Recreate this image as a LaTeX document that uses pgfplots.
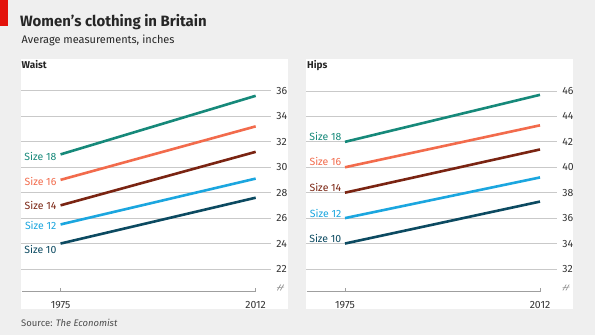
\documentclass[border=0pt]{standalone}
\usepackage{pgfplots}
\pgfplotsset{compat=1.18}
\usepackage{fontspec}
\setmainfont{Fira Sans}
\definecolor{bg}{HTML}{EFEFEF}
\definecolor{econred}{HTML}{E3120B}
\definecolor{sA}{HTML}{16897A}
\definecolor{sB}{HTML}{F26B4C}
\definecolor{sC}{HTML}{7A2412}
\definecolor{sD}{HTML}{1BA6DF}
\definecolor{sE}{HTML}{0C4A61}
\definecolor{txt}{HTML}{333333}
\definecolor{grid}{HTML}{C9C9C9}
\pgfplotsset{
  econ/.style={
    scale only axis,
    axis line style={draw=none},
    tick pos=left,
    ytick style={draw=none},
    xtick style={draw=gray!75, line width=0.8bp},
    tick align=inside,
    major tick length=3.5bp,
    yticklabel pos=right,
    ymajorgrids,
    major grid style={color=grid, line width=0.9bp},
    xtick={1975,2012},
    /pgf/number format/1000 sep={},
    /pgf/number format/assume math mode=true,
    ticklabel style={font=\fontsize{10.5}{12}\selectfont, text=txt},
    y tick label style={anchor=west, inner sep=0pt, xshift=5.5bp},
    x tick label style={anchor=north, inner sep=0pt, yshift=-9bp},
    clip=false,
    every axis plot/.append style={line width=2.6bp},
  },
}
\tikzset{lab/.style={anchor=east, inner sep=0pt, font=\fontsize{10.5}{12}\selectfont}}
\begin{document}
\begin{tikzpicture}[x=1bp,y=1bp]
\fill[bg] (0,0) rectangle (595,335);
\fill[econred] (0,335) rectangle (8,309);
\fill[white] (21,275.7) rectangle (288,26);
\fill[white] (306,275.7) rectangle (573,26);
\node[anchor=base west, inner sep=0pt, font=\bfseries\fontsize{15}{18}\selectfont, text=black!85] at (20,308.5) {Women’s clothing in Britain};
\node[anchor=base west, inner sep=0pt, font=\fontsize{11}{13}\selectfont, text=black!85] at (21.5,292) {Average measurements, inches};
\node[anchor=base west, inner sep=0pt, font=\bfseries\fontsize{10}{12}\selectfont, text=black!85] at (21.5,267) {Waist};
\node[anchor=base west, inner sep=0pt, font=\bfseries\fontsize{10}{12}\selectfont, text=black!85] at (307,267) {Hips};
\node[anchor=base west, inner sep=0pt, font=\fontsize{9.5}{11}\selectfont, text=black!70] at (21,9) {Source: \textit{The Economist}};

% Waist
\begin{axis}[econ, at={(21bp,244.3bp)}, anchor=north west, width=249.7bp, height=201bp,
  xmin=1967.5, xmax=2014.85, ymin=20.22, ymax=36, ytick={22,24,...,36}]
\addplot[sE] coordinates {(1975,24.0) (2012,27.6)};
\addplot[sD] coordinates {(1975,25.5) (2012,29.1)};
\addplot[sC] coordinates {(1975,27.0) (2012,31.2)};
\addplot[sB] coordinates {(1975,29.0) (2012,33.2)};
\addplot[sA] coordinates {(1975,31.0) (2012,35.6)};
\draw[gray!75, line width=0.8bp] (axis cs:1967.7,20.22) -- (axis cs:2012,20.22);
\node[lab, text=sA] at (axis cs:1975,31.0) [xshift=-4bp, yshift=-1.7bp] {Size 18};
\node[lab, text=sB] at (axis cs:1975,29.0) [xshift=-4bp, yshift=-1.4bp] {Size 16};
\node[lab, text=sC] at (axis cs:1975,27.0) [xshift=-4bp, yshift=-0.4bp] {Size 14};
\node[lab, text=sD] at (axis cs:1975,25.5) [xshift=-4bp, yshift=-1.4bp] {Size 12};
\node[lab, text=sE] at (axis cs:1975,24.0) [xshift=-4bp, yshift=-6bp] {Size 10};
\end{axis}

% Hips
\begin{axis}[econ, at={(306bp,244bp)}, anchor=north west, width=250.7bp, height=200.7bp,
  xmin=1967.6, xmax=2015.17, ymin=30.21, ymax=46, ytick={32,34,...,46}]
\addplot[sE] coordinates {(1975,34.0) (2012,37.3)};
\addplot[sD] coordinates {(1975,36.0) (2012,39.2)};
\addplot[sC] coordinates {(1975,38.0) (2012,41.4)};
\addplot[sB] coordinates {(1975,40.0) (2012,43.3)};
\addplot[sA] coordinates {(1975,42.0) (2012,45.7)};
\draw[gray!75, line width=0.8bp] (axis cs:1967.7,30.21) -- (axis cs:2012,30.21);
\node[lab, text=sA] at (axis cs:1975,42.0) [xshift=-3.5bp, yshift=5bp] {Size 18};
\node[lab, text=sB] at (axis cs:1975,40.0) [xshift=-3.5bp, yshift=6bp] {Size 16};
\node[lab, text=sC] at (axis cs:1975,38.0) [xshift=-3.5bp, yshift=5.5bp] {Size 14};
\node[lab, text=sD] at (axis cs:1975,36.0) [xshift=-3.5bp, yshift=5bp] {Size 12};
\node[lab, text=sE] at (axis cs:1975,34.0) [xshift=-3.5bp, yshift=5.5bp] {Size 10};
\end{axis}

% axis break marks
\foreach \bx in {280.5,566} {
  \draw[gray!80, line width=0.7bp] (\bx-3.2,44.5) -- (\bx+0.2,50.5);
  \draw[gray!80, line width=0.7bp] (\bx-0.2,44.5) -- (\bx+3.2,50.5);
  \draw[gray!80, line width=0.6bp] (\bx-3.5,47.2) -- (\bx+3.5,48);
}
\end{tikzpicture}
\end{document}
